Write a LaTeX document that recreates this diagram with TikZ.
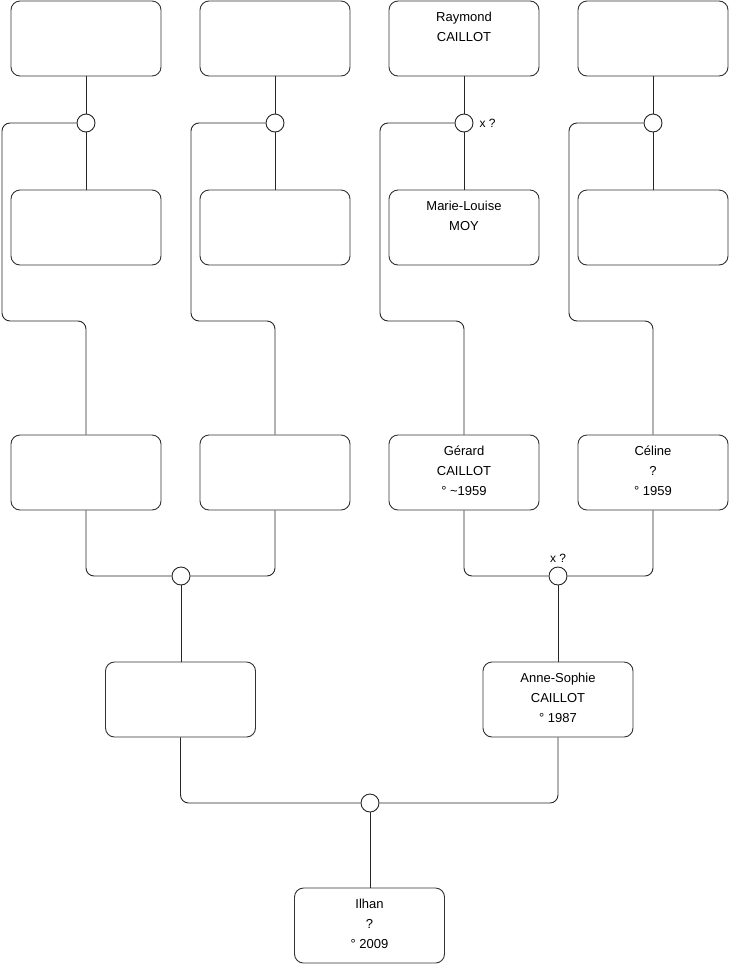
\documentclass[tikz,border=0pt]{standalone}
\usepackage{fontspec}
\setmainfont{Liberation Sans}
\begin{document}
\begin{tikzpicture}[x=1pt,y=-1pt,
  box/.style={draw=black!80, rounded corners=9pt, minimum width=150pt, minimum height=75pt, inner sep=0pt, line width=0.9pt},
  ring/.style={circle, draw=black!85, minimum size=18pt, inner sep=0pt, line width=0.9pt, fill=white},
  txt/.style={align=center, anchor=north, inner sep=0pt, font=\fontsize{13}{20}\selectfont},
  lbl/.style={inner sep=0pt, font=\fontsize{12}{14}\selectfont},
  link/.style={draw=black!85, line width=0.9pt, rounded corners=8pt}]
\useasboundingbox (0,0) rectangle (740,975);
% row 1
\node[box] (a1) at (86,38.5) {};
\node[box] (a2) at (275,38.5) {};
\node[box] (a3) at (464,38.5) {};
\node[box] (a4) at (653,38.5) {};
% rings row 1
\node[ring] (r1) at (86,123) {};
\node[ring] (r2) at (275,123) {};
\node[ring] (r3) at (464,123) {};
\node[ring] (r4) at (653,123) {};
% row 2
\node[box] (m1) at (86,227.5) {};
\node[box] (m2) at (275,227.5) {};
\node[box] (m3) at (464,227.5) {};
\node[box] (m4) at (653,227.5) {};
% row 3
\node[box] (p1) at (86,472.5) {};
\node[box] (p2) at (275,472.5) {};
\node[box] (p3) at (464,472.5) {};
\node[box] (p4) at (653,472.5) {};
% rings row 3
\node[ring] (s1) at (181,576) {};
\node[ring] (s2) at (558,576) {};
% row 4
\node[box] (c1) at (180.5,699.5) {};
\node[box] (c2) at (558,699.5) {};
% ring row 4
\node[ring] (u1) at (370,803) {};
% row 5
\node[box] (k1) at (369.5,925.5) {};
% texts
\node[txt] (ta3) at ([yshift=-11pt]a3.north) {Raymond\\CAILLOT};
\node[txt] (tm3) at ([yshift=-11pt]m3.north) {Marie-Louise\\MOY};
\node[txt] (tp3) at ([yshift=-11pt]p3.north) {Gérard\\CAILLOT\\° \textasciitilde1959};
\node[txt] (tp4) at ([yshift=-11pt]p4.north) {Céline\\?\\° 1959};
\node[txt] (tc2) at ([yshift=-11pt]c2.north) {Anne-Sophie\\CAILLOT\\° 1987};
\node[txt] (tk1) at ([yshift=-11pt]k1.north) {Ilhan\\?\\° 2009};
\node[lbl, anchor=west] (x1) at ([xshift=6pt]r3.east) {x ?};
\node[lbl, anchor=south] (x2) at ([yshift=4pt]s2.north) {x ?};
% links
\foreach \i in {1,2,3,4}{
  \draw[link] (a\i.south) -- (r\i.north);
  \draw[link] (r\i.south) -- (m\i.north);
}
\draw[link] (r1.west) -- (2,123) -- (2,321) -- (86,321) -- (p1.north);
\draw[link] (r2.west) -- (191,123) -- (191,321) -- (275,321) -- (p2.north);
\draw[link] (r3.west) -- (380,123) -- (380,321) -- (464,321) -- (p3.north);
\draw[link] (r4.west) -- (569,123) -- (569,321) -- (653,321) -- (p4.north);
\draw[link] (p1.south) -- (86,576) -- (s1.west);
\draw[link] (p2.south) -- (275,576) -- (s1.east);
\draw[link] (p3.south) -- (464,576) -- (s2.west);
\draw[link] (p4.south) -- (653,576) -- (s2.east);
\draw[link] (s1.south) -- (s1.south |- c1.north);
\draw[link] (s2.south) -- (c2.north);
\draw[link] (c1.south) -- (c1.south |- u1.west) -- (u1.west);
\draw[link] (c2.south) -- (c2.south |- u1.east) -- (u1.east);
\draw[link] (u1.south) -- (u1.south |- k1.north);
\end{tikzpicture}
\end{document}
